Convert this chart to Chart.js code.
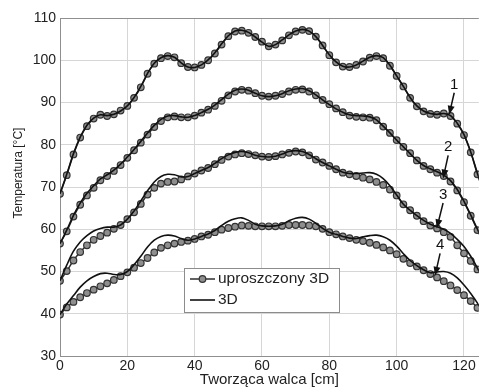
<!DOCTYPE html>
<html>
<head>
<meta charset="utf-8">
<script src="https://cdn.jsdelivr.net/npm/chart.js@4/dist/chart.umd.min.js"></script>
<style>
  body { margin: 0; background: #fff; }
</style>
</head>
<body>
<canvas id="temps" width="484" height="390"></canvas>
<script>
// positions along the roll [cm]
const positions = [
  0, 2, 4, 6, 8, 10, 12, 14,
  16, 18, 20, 22, 24, 26, 28, 30,
  32, 34, 36, 38, 40, 42, 44, 46,
  48, 50, 52, 54, 56, 58, 60, 62,
  64, 66, 68, 70, 72, 74, 76, 78,
  80, 82, 84, 86, 88, 90, 92, 94,
  96, 98, 100, 102, 104, 106, 108, 110,
  112, 114, 116, 118, 120, 122, 124, 126
]

// "uproszczony 3D" (markers)
const simple1 = [
  68.4, 72.8, 77.7, 81.7, 84.4, 86.2, 87.1, 86.8,
  87.2, 88.1, 89.2, 91.1, 93.6, 96.8, 99.2, 100.5,
  101.0, 100.7, 99.3, 98.4, 98.3, 98.9, 100.0, 101.6,
  103.7, 105.7, 106.8, 107.0, 106.5, 105.5, 104.4, 103.3,
  103.7, 104.7, 105.9, 106.8, 107.2, 106.9, 105.6, 103.5,
  101.2, 99.5, 98.5, 98.4, 98.9, 99.7, 100.6, 101.0,
  100.5, 98.7, 96.3, 93.8, 91.1, 89.1, 87.9, 87.3,
  87.1, 87.4, 86.8, 85.0, 82.3, 78.2, 73.0, 68.4
]
const simple2 = [
  56.6, 59.5, 63.0, 65.8, 68.0, 69.8, 71.6, 72.6,
  73.8, 75.2, 76.9, 78.7, 80.5, 82.4, 84.2, 85.6,
  86.5, 86.7, 86.5, 86.5, 86.9, 87.6, 88.3, 89.2,
  90.4, 91.7, 92.6, 93.0, 92.8, 92.2, 91.6, 91.4,
  91.6, 92.0, 92.6, 93.0, 93.1, 92.6, 91.7, 90.6,
  89.6, 88.6, 87.7, 86.9, 86.6, 86.5, 86.4, 85.8,
  84.3, 82.8, 81.1, 79.5, 78.0, 76.3, 75.0, 74.2,
  73.4, 72.6, 71.3, 69.2, 66.4, 63.2, 59.8, 56.6
]
const simple3 = [
  47.8, 50.1, 52.6, 54.6, 56.2, 57.5, 58.4, 59.2,
  60.1, 61.0, 62.4, 64.0, 66.0, 68.2, 69.8, 70.8,
  71.2, 71.3, 71.8, 72.5, 73.2, 73.9, 74.5, 75.4,
  76.4, 77.2, 77.7, 78.0, 77.8, 77.5, 77.2, 77.1,
  77.3, 77.7, 78.1, 78.4, 78.2, 77.5, 76.5, 75.8,
  75.0, 74.2, 73.4, 73.0, 72.6, 72.2, 71.8, 71.2,
  70.5, 69.4, 68.0, 65.9, 64.5, 63.2, 61.9, 60.9,
  60.2, 59.3, 58.2, 56.2, 54.3, 52.5, 50.5, 47.8
]
const simple4 = [
  39.8, 41.5, 42.8, 43.9, 44.9, 45.7, 46.5, 47.2,
  48.0, 48.9, 49.8, 50.9, 52.0, 53.2, 54.5, 55.6,
  56.2, 56.6, 57.0, 57.3, 57.7, 58.3, 58.7, 59.3,
  59.9, 60.3, 60.6, 60.9, 60.8, 60.7, 60.7, 60.7,
  60.7, 60.8, 61.0, 61.0, 61.0, 60.9, 60.7, 60.1,
  59.3, 58.8, 58.3, 57.9, 57.5, 57.2, 56.8, 56.3,
  55.7, 55.0, 54.1, 53.0, 52.0, 51.2, 50.3, 49.4,
  48.6, 47.7, 46.7, 45.6, 44.4, 43.0, 41.4, 39.8
]

// "3D" (solid lines)
const full1 = [
  68.4, 73.0, 77.9, 81.8, 84.6, 86.3, 87.1, 86.9,
  87.2, 88.0, 89.2, 91.2, 93.8, 96.9, 99.3, 100.6,
  101.1, 100.7, 99.4, 98.4, 98.3, 98.9, 100.1, 101.8,
  103.9, 105.8, 106.9, 107.1, 106.6, 105.5, 104.3, 103.3,
  103.7, 104.8, 106.0, 106.9, 107.3, 106.9, 105.6, 103.5,
  101.3, 99.6, 98.6, 98.4, 98.9, 99.8, 100.7, 101.1,
  100.6, 98.8, 96.3, 93.8, 91.2, 89.2, 88.0, 87.4,
  87.2, 87.4, 86.9, 85.1, 82.4, 78.3, 73.2, 68.4
]
const full2 = [
  56.6, 59.8, 63.3, 66.2, 68.5, 70.3, 71.9, 72.9,
  74.0, 75.4, 77.1, 78.9, 80.8, 82.8, 84.6, 86.0,
  86.8, 86.9, 86.6, 86.5, 86.9, 87.6, 88.4, 89.4,
  90.7, 92.0, 92.9, 93.2, 92.9, 92.2, 91.6, 91.4,
  91.6, 92.1, 92.8, 93.2, 93.3, 92.8, 91.8, 90.6,
  89.5, 88.5, 87.7, 87.1, 86.9, 86.8, 86.6, 85.9,
  84.4, 82.8, 81.1, 79.5, 77.9, 76.3, 75.1, 74.3,
  73.6, 72.8, 71.5, 69.4, 66.6, 63.4, 60.0, 56.6
]
const full3 = [
  47.8, 51.5, 54.8, 57.0, 58.5, 59.6, 60.2, 60.5,
  60.5, 61.0, 62.4, 64.3, 66.7, 69.1, 71.2, 72.5,
  73.0, 72.9, 72.4, 72.5, 73.2, 73.9, 74.6, 75.6,
  76.7, 77.6, 78.2, 78.4, 78.1, 77.5, 77.2, 77.1,
  77.3, 77.8, 78.4, 78.6, 78.4, 77.7, 76.7, 75.8,
  75.0, 74.2, 73.5, 73.2, 73.2, 73.3, 73.4, 73.0,
  72.0, 70.3, 68.1, 65.9, 64.5, 63.2, 62.1, 61.2,
  60.6, 60.0, 59.0, 57.6, 55.9, 53.6, 50.8, 47.8
]
const full4 = [
  39.8, 42.3, 44.3, 46.3, 47.8, 48.8, 49.5, 49.6,
  49.3, 49.3, 50.0, 51.6, 53.6, 55.8, 57.4, 58.3,
  58.6, 58.4, 57.8, 57.4, 57.7, 58.3, 58.9, 59.7,
  60.9, 61.9, 62.5, 62.7, 62.1, 61.2, 60.8, 60.7,
  60.8, 61.2, 62.0, 62.6, 62.8, 62.4, 61.4, 60.2,
  59.3, 58.8, 58.3, 57.9, 57.8, 58.2, 58.5, 58.6,
  58.2, 57.4, 56.0, 54.2, 52.6, 51.4, 50.4, 49.7,
  49.9, 50.0, 49.6, 48.5, 46.8, 44.8, 42.5, 39.8
]

const seriesNames = ['uproszczony 3D', '3D']
const yTicks = [30, 40, 50, 60, 70, 80, 90, 100, 110]
const xTicks = [0, 20, 40, 60, 80, 100, 120]

// curve numbers with arrows (data coordinates)
const tagText = ['1', '2', '3', '4']
const tagX = [117.1, 115.3, 113.8, 112.9]
const tagY = [94.2, 79.4, 68.1, 56.2]
const tipX = [115.6, 113.8, 111.9, 111.4]
const tipY = [87.1, 72.0, 60.2, 49.0]

Chart.defaults.font.family = "'Liberation Sans', Arial, sans-serif"
Chart.defaults.color = '#222'

function points(ys) {
  return positions.map((x, i) => ({ x: x, y: ys[i] }))
}

const simpleStyle = {
  borderColor: '#2e2e2e',
  borderWidth: 1.5,
  pointRadius: 3.3,
  pointBorderWidth: 1.2,
  pointBackgroundColor: '#8e8e8e',
  pointBorderColor: '#333',
  tension: 0.35
}
const fullStyle = {
  borderColor: '#111',
  borderWidth: 1.6,
  pointRadius: 0,
  tension: 0.35
}

const datasets = []
;[full1, full2, full3, full4].forEach(ys => {
  datasets.push(Object.assign({ label: seriesNames[1], data: points(ys) }, fullStyle))
})
;[simple1, simple2, simple3, simple4].forEach(ys => {
  datasets.push(Object.assign({ label: seriesNames[0], data: points(ys) }, simpleStyle))
})

const legendBox = {
  id: 'legendBox',
  afterDatasetsDraw(chart) {
    const { ctx, chartArea } = chart
    const left = Math.round(chartArea.left + 124)
    const top = Math.round(chartArea.top + 250)
    ctx.save()
    ctx.fillStyle = '#fff'
    ctx.fillRect(left, top, 155, 44)
    ctx.strokeStyle = '#8c8c8c'
    ctx.lineWidth = 1
    ctx.strokeRect(left + 0.5, top + 0.5, 155, 44)

    // row 1: markers
    ctx.strokeStyle = '#2e2e2e'
    ctx.lineWidth = 1.5
    ctx.beginPath()
    ctx.moveTo(left + 6, top + 11)
    ctx.lineTo(left + 31, top + 11)
    ctx.stroke()
    ctx.beginPath()
    ctx.arc(left + 18.5, top + 11, 3.3, 0, Math.PI * 2)
    ctx.fillStyle = '#8e8e8e'
    ctx.fill()
    ctx.strokeStyle = '#333'
    ctx.lineWidth = 1.2
    ctx.stroke()

    // row 2: solid line
    ctx.strokeStyle = '#111'
    ctx.lineWidth = 1.6
    ctx.beginPath()
    ctx.moveTo(left + 6, top + 32)
    ctx.lineTo(left + 31, top + 32)
    ctx.stroke()

    ctx.fillStyle = '#222'
    ctx.font = "15.5px 'Liberation Sans', Arial, sans-serif"
    ctx.textBaseline = 'middle'
    ctx.fillText(seriesNames[0], left + 34, top + 11)
    ctx.fillText(seriesNames[1], left + 34, top + 32)
    ctx.restore()
  }
}

const curveTags = {
  id: 'curveTags',
  afterDatasetsDraw(chart) {
    const { ctx, scales } = chart
    ctx.save()
    ctx.font = "15px 'Liberation Sans', Arial, sans-serif"
    ctx.textAlign = 'center'
    ctx.textBaseline = 'middle'
    ctx.fillStyle = '#111'
    ctx.strokeStyle = '#111'
    ctx.lineWidth = 1.5
    tagText.forEach((t, i) => {
      const lx = scales.x.getPixelForValue(tagX[i])
      const ly = scales.y.getPixelForValue(tagY[i])
      const ax = scales.x.getPixelForValue(tipX[i])
      const ay = scales.y.getPixelForValue(tipY[i])
      ctx.fillText(t, lx, ly)
      const sx = lx, sy = ly + 8
      const ang = Math.atan2(ay - sy, ax - sx)
      ctx.beginPath()
      ctx.moveTo(sx, sy)
      ctx.lineTo(ax - Math.cos(ang) * 6, ay - Math.sin(ang) * 6)
      ctx.stroke()
      ctx.beginPath()
      ctx.moveTo(ax, ay)
      ctx.lineTo(ax - Math.cos(ang) * 9 + Math.sin(ang) * 3.5, ay - Math.sin(ang) * 9 - Math.cos(ang) * 3.5)
      ctx.lineTo(ax - Math.cos(ang) * 9 - Math.sin(ang) * 3.5, ay - Math.sin(ang) * 9 + Math.cos(ang) * 3.5)
      ctx.closePath()
      ctx.fill()
    })
    ctx.restore()
  }
}

const yTitle = {
  id: 'yTitle',
  afterDraw(chart) {
    const { ctx, chartArea } = chart
    ctx.save()
    ctx.translate(19, (chartArea.top + chartArea.bottom) / 2 - 14)
    ctx.rotate(-Math.PI / 2)
    ctx.font = "12px 'Liberation Sans', Arial, sans-serif"
    ctx.fillStyle = '#222'
    ctx.textAlign = 'center'
    ctx.textBaseline = 'middle'
    ctx.fillText('Temperatura [°C]', 0, 0)
    ctx.restore()
  }
}

new Chart(document.getElementById('temps'), {
  type: 'line',
  data: { datasets: datasets },
  options: {
    responsive: false,
    animation: false,
    devicePixelRatio: 1,
    layout: { padding: { top: 18, left: 0, right: 0, bottom: 0 } },
    plugins: {
      legend: { display: false },
      tooltip: { enabled: false }
    },
    scales: {
      x: {
        type: 'linear',
        min: 0,
        max: 124.4,
        afterBuildTicks: scale => { scale.ticks = xTicks.map(v => ({ value: v })) },
        afterFit: scale => { scale.height = 34; scale.paddingRight = 0 },
        ticks: { font: { size: 14 }, padding: 2, maxRotation: 0 },
        grid: { color: '#d6d6d6', drawTicks: false },
        border: { color: '#8f8f8f' },
        title: {
          display: true,
          text: 'Tworząca walca [cm]',
          font: { size: 15 },
          padding: { top: 0, bottom: 1 }
        }
      },
      y: {
        min: 30,
        max: 110,
        afterBuildTicks: scale => { scale.ticks = yTicks.map(v => ({ value: v })) },
        afterFit: scale => { scale.width = 60 },
        ticks: { font: { size: 14 }, padding: 4 },
        grid: {
          color: ctx => ctx.tick && ctx.tick.value === 110 ? '#8f8f8f' : '#d6d6d6',
          drawTicks: false
        },
        border: { color: '#8f8f8f' }
      }
    }
  },
  plugins: [legendBox, curveTags, yTitle]
})
</script>
</body>
</html>
